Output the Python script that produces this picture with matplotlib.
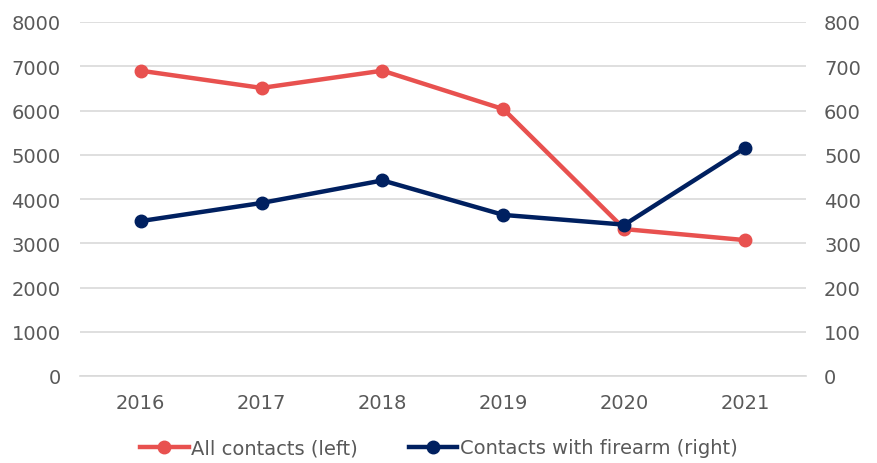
import matplotlib
matplotlib.use("Agg")
import matplotlib.pyplot as plt
from matplotlib.lines import Line2D

years = ["2016", "2017", "2018", "2019", "2020", "2021"]
all_contacts = [6900, 6510, 6900, 6030, 3320, 3070]
firearm_contacts = [350, 391, 442, 364, 342, 516]
left_ticks = [0, 1000, 2000, 3000, 4000, 5000, 6000, 7000, 8000]
right_ticks = [0, 100, 200, 300, 400, 500, 600, 700, 800]

red = "#E8514F"
navy = "#002060"
text_color = "#595959"
grid_color = "#D9D9D9"

plt.rcParams["font.family"] = ["DejaVu Sans"]
plt.rcParams["font.size"] = 14

fig = plt.figure(figsize=(8.78, 4.64), dpi=100)
ax = fig.add_axes([80 / 878, 1 - 377 / 464, 726 / 878, 354 / 464])
ax2 = ax.twinx()

x = list(range(len(years)))
ax.plot(x, all_contacts, color=red, lw=3.2, marker="o", ms=9, zorder=3)
ax2.plot(x, firearm_contacts, color=navy, lw=3.2, marker="o", ms=9, zorder=3)

ax.set_xlim(-0.5, len(years) - 0.5)
ax.set_ylim(0, 8000)
ax2.set_ylim(0, 800)
ax.set_yticks(left_ticks)
ax2.set_yticks(right_ticks)
ax.set_xticks(x)
ax.set_xticklabels(years)

ax.yaxis.grid(True, color=grid_color, lw=1.2)
ax.set_axisbelow(True)
for a in (ax, ax2):
    for s in a.spines.values():
        s.set_visible(False)
    a.tick_params(length=0, colors=text_color, labelsize=14)
ax.spines["bottom"].set_visible(True)
ax.spines["bottom"].set_color(grid_color)
ax.spines["bottom"].set_linewidth(1.2)
ax.tick_params(axis="y", pad=14)
ax2.tick_params(axis="y", pad=13)
ax.tick_params(axis="x", pad=12)

handles = [
    Line2D([], [], color=red, lw=3.2, marker="o", ms=9),
    Line2D([], [], color=navy, lw=3.2, marker="o", ms=9),
]
fig.legend(handles, ["All contacts (left)", "Contacts with firearm (right)"],
           loc="center", bbox_to_anchor=(0.5, 1 - 449 / 464), ncol=2,
           frameon=False, handlelength=2.5, handletextpad=0.15,
           columnspacing=2.6, labelcolor=text_color, fontsize=14)

fig.savefig("out.png", dpi=100)
